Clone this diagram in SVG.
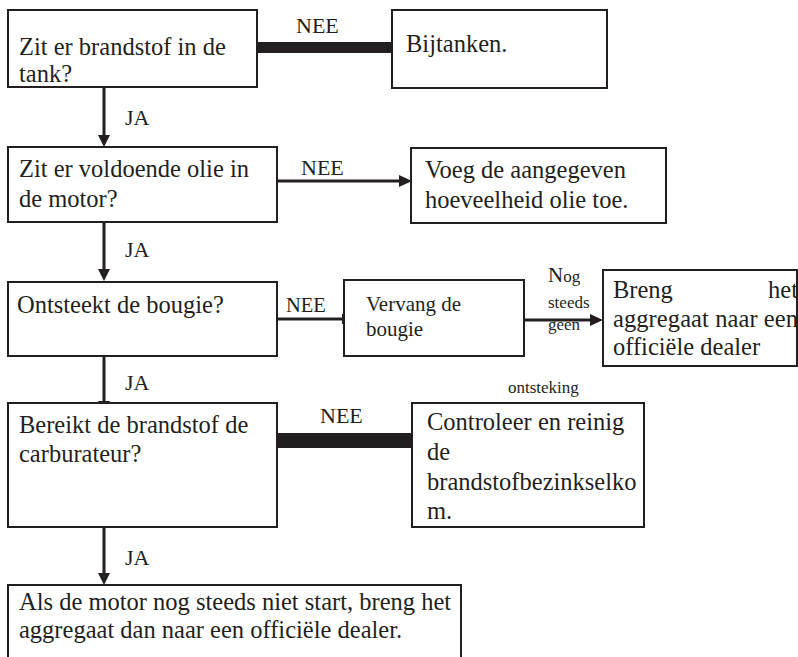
<svg xmlns="http://www.w3.org/2000/svg" width="798" height="657" viewBox="0 0 798 657">
<style>
text{font-family:"Liberation Serif",Tinos,"Times New Roman","Nimbus Roman","DejaVu Serif",serif;fill:#231f20}
.box{fill:#fff;stroke:#231f20;stroke-width:2}
.t{font-size:24.5px}
.lbl{font-size:22px}
.sm{font-size:17px}
.ln{stroke:#231f20;stroke-width:3;fill:none}
.ah{fill:#231f20}
.bar{fill:#231f20}
</style>
<rect width="798" height="657" fill="#fff"/>
<g id="connectors">
  <rect class="bar" x="257" y="42" width="135" height="11"/>
  <text class="lbl" x="296" y="33">NEE</text>
  <line class="ln" x1="104" y1="87" x2="104" y2="137"/>
  <polygon class="ah" points="98,135 110,135 104,147"/>
  <text class="lbl" x="125" y="125">JA</text>
  <line class="ln" x1="277" y1="181" x2="400" y2="181"/>
  <polygon class="ah" points="399,175 399,187 412,181"/>
  <text class="lbl" x="301" y="175">NEE</text>
  <line class="ln" x1="104" y1="222" x2="104" y2="271"/>
  <polygon class="ah" points="98,269 110,269 104,281"/>
  <text class="lbl" x="125" y="257">JA</text>
  <line class="ln" x1="277" y1="319" x2="344" y2="319"/>
  <line stroke="#231f20" stroke-width="2" x1="343" y1="314" x2="343" y2="324"/>
  <text class="lbl" x="286" y="312" style="font-size:20.5px">NEE</text>
  <line class="ln" x1="524" y1="320" x2="591" y2="320"/>
  <polygon class="ah" points="590,314 590,326 603,320"/>
  <text class="sm" x="548" y="282"><tspan style="font-size:21px">N</tspan><tspan style="font-size:17px">og</tspan></text>
  <text class="sm" x="548" y="308">steeds</text>
  <text class="sm" x="548" y="330">geen</text>
  <text class="sm" x="508" y="393">ontsteking</text>
  <line class="ln" x1="104" y1="356" x2="104" y2="403"/>
  <polygon class="ah" points="98,401 110,401 104,413"/>
  <text class="lbl" x="125" y="390">JA</text>
  <rect class="bar" x="277" y="433" width="135" height="15"/>
  <text class="lbl" x="320" y="423">NEE</text>
  <line class="ln" x1="104" y1="527" x2="104" y2="575"/>
  <polygon class="ah" points="98,573 110,573 104,585"/>
  <text class="lbl" x="125" y="565">JA</text>
</g>
<g id="n1">
  <rect class="box" x="8" y="10" width="249" height="77"/>
  <text class="t" x="19" y="55">Zit er brandstof in de</text>
  <text class="t" x="19" y="82">tank?</text>
</g>
<g id="n2">
  <rect class="box" x="392" y="10" width="215" height="78"/>
  <text class="t" x="406" y="52">Bijtanken.</text>
</g>
<g id="n3">
  <rect class="box" x="8" y="147" width="269" height="75"/>
  <text class="t" x="19" y="177">Zit er voldoende olie in</text>
  <text class="t" x="19" y="207">de motor?</text>
</g>
<g id="n4">
  <rect class="box" x="411" y="148" width="255" height="75"/>
  <text class="t" x="425" y="178">Voeg de aangegeven</text>
  <text class="t" x="425" y="208">hoeveelheid olie toe.</text>
</g>
<g id="n5">
  <rect class="box" x="8" y="282" width="269" height="74"/>
  <text class="t" x="17" y="313">Ontsteekt de bougie?</text>
</g>
<g id="n6">
  <rect class="box" x="344" y="280" width="180" height="76"/>
  <text x="366" y="311" style="font-size:21px">Vervang de</text>
  <text x="366" y="336" style="font-size:21px">bougie</text>
</g>
<g id="n7">
  <rect class="box" x="603" y="270" width="194" height="96"/>
  <text class="t" x="613" y="298">Breng</text>
  <text class="t" x="798" y="298" text-anchor="end">het</text>
  <text class="t" x="613" y="327" textLength="185" lengthAdjust="spacing">aggregaat naar een</text>
  <text class="t" x="613" y="355">officiële dealer</text>
</g>
<g id="n8">
  <rect class="box" x="8" y="403" width="269" height="124"/>
  <text class="t" x="19" y="433">Bereikt de brandstof de</text>
  <text class="t" x="19" y="462">carburateur?</text>
</g>
<g id="n9">
  <rect class="box" x="412" y="403" width="232" height="124"/>
  <text class="t" x="427" y="430">Controleer en reinig</text>
  <text class="t" x="427" y="460">de</text>
  <text class="t" x="427" y="490">brandstofbezinkselko</text>
  <text class="t" x="427" y="519">m.</text>
</g>
<g id="n10">
  <rect class="box" x="8" y="585" width="453" height="80"/>
  <text class="t" x="19" y="610">Als de motor nog steeds niet start, breng het</text>
  <text class="t" x="19" y="638">aggregaat dan naar een officiële dealer.</text>
</g>
</svg>
